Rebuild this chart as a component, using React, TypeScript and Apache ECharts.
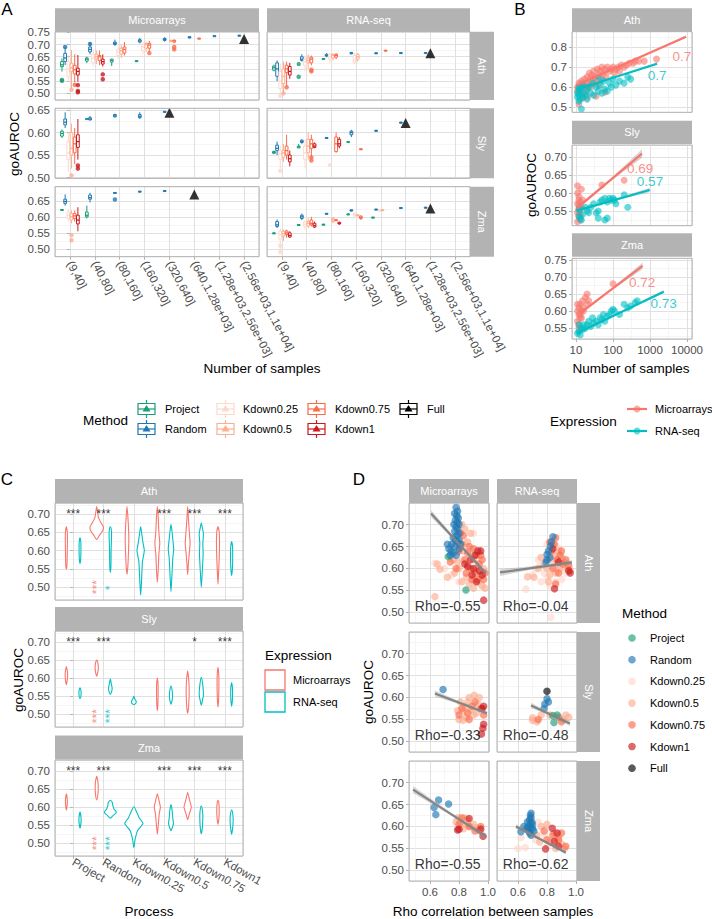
import React, { useEffect, useRef } from "react";
import * as echarts from "echarts";

const FONT = "'Liberation Sans', Arial, Helvetica, sans-serif";
const BORDER = "#b3b3b3";
const STRIP_FILL = "#b3b3b3";
const MAJOR = "#e0e0e0";
const MINOR = "#efefef";
const TICK_TXT = "#4d4d4d";

// ---------------- categories ----------------
const SPECIES = ["Ath", "Sly", "Zma"];
const EXPRESSIONS = ["Microarrays", "RNA-seq"];
const EXPR_COLORS = ["#F8766D", "#00BFC4"];
const METHODS = ["Project", "Random", "Kdown0.25", "Kdown0.5", "Kdown0.75", "Kdown1", "Full"];
const METHOD_COLORS = ["#1b9e77", "#1f78b4", "#fdd9cc", "#fcae91", "#fb6a4a", "#cb181d", "#000000"];
const SAMPLE_BINS = ["(9,40]", "(40,80]", "(80,160]", "(160,320]", "(320,640]", "(640,1.28e+03]", "(1.28e+03,2.56e+03]", "(2.56e+03,1.1e+04]"];
const PROCESSES = ["Project", "Random", "Kdown0.25", "Kdown0.5", "Kdown0.75", "Kdown1"];
const B_X_LABELS = ["10", "100", "1000", "10000"];

// ---------------- Panel A: boxes [bin, method, min, q1, median, q3, max] ----------------
const BOX_ATH_MICRO = [
  [0,0,0.589,0.609,0.617,0.63,0.643],[0,1,0.616,0.63,0.645,0.664,0.69],[0,2,0.548,0.568,0.6,0.63,0.657],
  [0,3,0.52,0.589,0.605,0.623,0.677],[0,4,0.545,0.58,0.597,0.615,0.66],[0,5,0.548,0.575,0.59,0.603,0.657],
  [1,0,0.624,0.632,0.64,0.645,0.65],[1,1,0.66,0.67,0.68,0.69,0.71],[1,2,0.61,0.625,0.645,0.66,0.68],
  [1,3,0.62,0.64,0.65,0.66,0.675],[1,4,0.615,0.635,0.65,0.655,0.675],[1,5,0.61,0.62,0.63,0.64,0.66],
  [2,0,0.612,0.628,0.635,0.64,0.642],[2,1,0.695,0.7,0.705,0.71,0.72],[2,2,0.64,0.655,0.67,0.68,0.7],
  [2,3,0.645,0.66,0.675,0.685,0.7],[2,4,0.655,0.665,0.68,0.69,0.71],
  [3,0,0.631,0.632,0.633,0.634,0.635],[3,1,0.705,0.71,0.715,0.72,0.727],[3,2,0.66,0.675,0.69,0.7,0.71],
  [3,3,0.67,0.685,0.7,0.705,0.71],[3,4,0.67,0.685,0.698,0.705,0.715],
  [4,1,0.712,0.717,0.72,0.725,0.73],[4,3,0.71,0.712,0.715,0.717,0.72],[4,4,0.705,0.71,0.715,0.718,0.72],
  [5,1,0.725,0.727,0.73,0.732,0.733],[5,4,0.722,0.723,0.725,0.726,0.727],
  [6,1,0.733,0.734,0.735,0.736,0.737],[7,1,0.735,0.736,0.737,0.738,0.739],
];
const BOX_ATH_RNA = [
  [0,0,0.59,0.595,0.605,0.612,0.618],[0,1,0.55,0.57,0.6,0.625,0.635],[0,2,0.48,0.52,0.55,0.59,0.62],
  [0,3,0.5,0.54,0.57,0.6,0.63],[0,4,0.53,0.585,0.6,0.615,0.63],[0,5,0.56,0.575,0.59,0.61,0.625],
  [1,0,0.612,0.615,0.62,0.625,0.628],[1,1,0.63,0.635,0.64,0.65,0.66],[1,2,0.59,0.615,0.63,0.64,0.655],
  [1,3,0.6,0.625,0.635,0.645,0.66],[1,4,0.615,0.625,0.64,0.648,0.655],
  [2,0,0.64,0.641,0.642,0.643,0.644],[2,1,0.648,0.653,0.655,0.66,0.665],[2,2,0.625,0.64,0.65,0.66,0.665],
  [2,3,0.635,0.645,0.655,0.66,0.665],[2,4,0.64,0.648,0.655,0.66,0.665],
  [3,1,0.66,0.662,0.665,0.667,0.67],[3,2,0.62,0.625,0.635,0.655,0.665],[3,3,0.63,0.64,0.65,0.66,0.665],
  [4,1,0.663,0.664,0.665,0.666,0.667],[4,4,0.672,0.673,0.675,0.677,0.678],
  [5,1,0.664,0.665,0.666,0.667,0.668],[6,1,0.664,0.665,0.666,0.667,0.668],
];
const BOX_SLY_MICRO = [
  [0,0,0.588,0.592,0.598,0.603,0.607],[0,1,0.61,0.617,0.623,0.63,0.645],[0,2,0.513,0.54,0.555,0.58,0.6],
  [0,3,0.52,0.55,0.565,0.6,0.62],[0,4,0.53,0.555,0.575,0.59,0.61],[0,5,0.54,0.567,0.58,0.595,0.63],
  [1,0,0.628,0.629,0.63,0.631,0.632],[1,1,0.627,0.628,0.63,0.633,0.637],
  [2,1,0.633,0.635,0.637,0.64,0.642],[3,1,0.63,0.633,0.636,0.64,0.645],[4,1,0.644,0.645,0.646,0.647,0.648],
];
const BOX_SLY_RNA = [
  [0,0,0.552,0.554,0.556,0.558,0.56],[0,1,0.55,0.56,0.565,0.572,0.58],[0,2,0.52,0.54,0.553,0.56,0.57],
  [0,3,0.535,0.545,0.555,0.56,0.575],[0,4,0.54,0.55,0.56,0.57,0.595],[0,5,0.525,0.535,0.542,0.55,0.56],
  [1,0,0.565,0.566,0.568,0.57,0.575],[1,1,0.575,0.578,0.58,0.583,0.585],[1,2,0.52,0.54,0.555,0.57,0.585],
  [1,3,0.54,0.555,0.57,0.585,0.6],[1,4,0.545,0.565,0.575,0.585,0.595],[1,5,0.565,0.567,0.57,0.575,0.578],
  [2,1,0.586,0.587,0.588,0.589,0.59],[2,2,0.525,0.526,0.528,0.53,0.532],[2,4,0.555,0.558,0.575,0.59,0.6],
  [2,5,0.565,0.57,0.575,0.585,0.59],
  [3,0,0.577,0.578,0.579,0.58,0.581],[3,1,0.59,0.595,0.6,0.603,0.606],[3,4,0.561,0.562,0.563,0.564,0.565],
  [4,1,0.602,0.603,0.604,0.605,0.606],[5,1,0.62,0.621,0.622,0.623,0.624],
];
const BOX_ZMA_MICRO = [
  [0,0,0.62,0.621,0.622,0.623,0.624],[0,1,0.635,0.642,0.648,0.655,0.67],[0,2,0.585,0.595,0.605,0.615,0.625],
  [0,3,0.58,0.59,0.6,0.61,0.62],[0,4,0.585,0.595,0.603,0.61,0.62],[0,5,0.555,0.578,0.59,0.605,0.63],
  [1,0,0.595,0.6,0.605,0.615,0.635],[1,1,0.645,0.655,0.66,0.668,0.675],
  [2,1,0.673,0.674,0.675,0.676,0.677],[3,1,0.677,0.678,0.679,0.68,0.681],[4,1,0.679,0.68,0.681,0.682,0.683],
];
const BOX_ZMA_RNA = [
  [0,0,0.547,0.548,0.549,0.55,0.551],[0,1,0.565,0.57,0.575,0.585,0.592],[0,2,0.5,0.53,0.545,0.555,0.565],
  [0,3,0.525,0.54,0.548,0.555,0.56],[0,4,0.535,0.545,0.55,0.556,0.56],[0,5,0.535,0.537,0.542,0.55,0.555],
  [1,0,0.573,0.574,0.575,0.576,0.577],[1,1,0.59,0.595,0.6,0.605,0.61],[1,2,0.56,0.57,0.577,0.585,0.59],
  [1,3,0.565,0.572,0.58,0.585,0.595],[1,4,0.57,0.575,0.58,0.59,0.6],[1,5,0.565,0.568,0.573,0.58,0.585],
  [2,0,0.574,0.575,0.576,0.577,0.578],[2,1,0.608,0.609,0.61,0.611,0.612],[2,3,0.58,0.585,0.59,0.595,0.6],
  [2,4,0.588,0.589,0.59,0.591,0.592],[2,5,0.575,0.578,0.58,0.583,0.585],
  [3,0,0.606,0.607,0.608,0.609,0.61],[3,1,0.617,0.618,0.62,0.622,0.623],[3,2,0.6,0.603,0.607,0.612,0.615],
  [3,3,0.603,0.604,0.605,0.606,0.607],[3,4,0.59,0.595,0.598,0.602,0.605],
  [4,0,0.596,0.597,0.598,0.599,0.6],[4,1,0.621,0.622,0.623,0.624,0.625],[4,2,0.618,0.619,0.62,0.621,0.622],
  [4,3,0.619,0.62,0.621,0.622,0.623],[5,1,0.626,0.627,0.628,0.629,0.63],[6,1,0.627,0.628,0.629,0.63,0.631],
];
// outliers [bin, method, value]
const OUT_ATH_MICRO = [[0,0,0.555],[0,0,0.552],[0,1,0.69],[0,3,0.515],[0,4,0.535],[0,5,0.534],[0,5,0.51],[0,5,0.505],[1,1,0.702],[1,5,0.578],[1,5,0.558],[3,4,0.665],[4,4,0.69],[4,4,0.68]];
const OUT_ATH_RNA = [[0,2,0.49],[0,3,0.5],[0,4,0.525],[1,0,0.568],[1,4,0.59],[1,4,0.597]];
const OUT_SLY_MICRO = [[0,3,0.505],[0,5,0.527],[0,5,0.52]];
const OUT_SLY_RNA = [[0,2,0.515],[1,4,0.545],[1,4,0.538]];
const OUT_ZMA_MICRO = [[0,3,0.543],[0,3,0.527],[2,1,0.654]];
const OUT_ZMA_RNA = [[0,2,0.51],[0,2,0.49]];
// Full dataset points [species, expression, bin, value]
const FULL_A = [[0,0,7,0.723],[0,1,6,0.664],[1,0,4,0.644],[1,1,5,0.621],[2,0,5,0.67],[2,1,6,0.626]];

// ---------------- Panel B: [number of samples, goAUROC] ----------------
const PTS_B_ATH_MICRO = [[11,0.6],[11,0.58],[12,0.62],[12,0.57],[13,0.61],[13,0.59],[14,0.63],[15,0.6],[15,0.56],[16,0.62],[17,0.64],[18,0.6],[19,0.58],[20,0.65],[20,0.62],[22,0.61],[23,0.67],[25,0.64],[25,0.6],[27,0.66],[30,0.62],[30,0.68],[33,0.65],[35,0.63],[38,0.69],[40,0.66],[40,0.61],[45,0.68],[50,0.64],[50,0.7],[55,0.67],[60,0.69],[65,0.65],[70,0.7],[80,0.68],[90,0.69],[100,0.7],[110,0.67],[120,0.69],[140,0.7],[150,0.68],[170,0.71],[200,0.7],[230,0.71],[280,0.72],[350,0.72],[400,0.73],[500,0.73],[700,0.73],[1500,0.74],[12,0.515],[20,0.55],[35,0.555],[60,0.575],[15,0.545]];
const PTS_B_ATH_RNA = [[11,0.55],[11,0.57],[12,0.53],[12,0.6],[12,0.56],[13,0.54],[13,0.58],[14,0.49],[15,0.55],[15,0.61],[16,0.57],[18,0.56],[20,0.59],[20,0.54],[22,0.6],[25,0.57],[28,0.62],[30,0.56],[35,0.6],[40,0.58],[41,0.648],[45,0.61],[50,0.57],[55,0.63],[60,0.59],[70,0.58],[80,0.62],[90,0.6],[100,0.64],[120,0.61],[150,0.63],[200,0.62],[250,0.65],[300,0.64],[12,0.59],[14,0.6]];
const PTS_B_SLY_MICRO = [[11,0.62],[11,0.6],[12,0.59],[12,0.58],[13,0.575],[11,0.57],[12,0.565],[14,0.56],[13,0.555],[12,0.55],[11,0.545],[12,0.535],[13,0.525],[11,0.52],[15,0.58],[14,0.61],[50,0.622],[200,0.635],[12,0.555],[13,0.54]];
const PTS_B_SLY_RNA = [[12,0.555],[13,0.53],[14,0.525],[12,0.535],[15,0.54],[20,0.55],[25,0.56],[30,0.57],[35,0.545],[40,0.55],[45,0.575],[50,0.58],[60,0.585],[70,0.575],[80,0.585],[90,0.58],[100,0.585],[110,0.58],[40,0.53],[60,0.525],[70,0.53],[200,0.595],[250,0.56],[120,0.57],[22,0.545],[18,0.56]];
const PTS_B_ZMA_MICRO = [[11,0.62],[11,0.6],[12,0.61],[12,0.59],[13,0.62],[13,0.58],[14,0.6],[15,0.63],[15,0.61],[16,0.6],[18,0.64],[20,0.65],[20,0.62],[22,0.63],[11,0.57],[12,0.56],[14,0.58],[12,0.55],[100,0.68],[13,0.59]];
const PTS_B_ZMA_RNA = [[11,0.535],[12,0.54],[13,0.53],[14,0.55],[15,0.545],[16,0.56],[18,0.55],[20,0.56],[22,0.57],[25,0.555],[28,0.58],[30,0.565],[35,0.57],[40,0.56],[45,0.58],[50,0.575],[55,0.59],[60,0.57],[70,0.585],[80,0.59],[90,0.6],[100,0.605],[110,0.6],[150,0.59],[200,0.62],[250,0.61],[300,0.615],[400,0.625],[450,0.63],[12,0.56]];
// fits [species, expression, n0, y0, n1, y1, se0, seMid, se1]
const FITS_B = [
  [0,0,10.6,0.61,9400,0.852,0.004,0.002,0.006],[0,1,10.6,0.589,1550,0.717,0.004,0.002,0.006],
  [1,0,10.6,0.558,607,0.709,0.006,0.003,0.012],[1,1,10.6,0.551,980,0.608,0.004,0.002,0.006],
  [2,0,13,0.594,630,0.733,0.005,0.003,0.01],[2,1,10.6,0.535,2350,0.657,0.003,0.002,0.005],
];
// fit labels [species, expression, n, y, text]
const LABELS_B = [[0,0,7300,0.754,"0.7"],[0,1,1550,0.66,"0.7"],[1,0,540,0.669,"0.69"],[1,1,1000,0.632,"0.57"],[2,0,610,0.684,"0.72"],[2,1,2350,0.621,"0.73"]];

// ---------------- Panel C: violins [process, expression, [[goAUROC, halfwidth]...]] ----------------
const VIOLINS_ATH = [
  [0,0,[[0.55,0],[0.56,0.02],[0.6,0.03],[0.63,0.035],[0.65,0.03],[0.665,0]]],
  [0,1,[[0.565,0],[0.58,0.025],[0.61,0.03],[0.625,0.025],[0.635,0]]],
  [1,0,[[0.63,0],[0.64,0.08],[0.655,0.2],[0.665,0.22],[0.675,0.15],[0.69,0.06],[0.705,0.03],[0.72,0]]],
  [1,1,[[0.54,0],[0.56,0.02],[0.6,0.025],[0.64,0.04],[0.655,0.035],[0.665,0]]],
  [2,0,[[0.535,0],[0.56,0.03],[0.6,0.05],[0.63,0.06],[0.66,0.05],[0.69,0.03],[0.72,0]]],
  [2,1,[[0.478,0],[0.52,0.03],[0.57,0.06],[0.6,0.12],[0.625,0.07],[0.65,0.03],[0.665,0]]],
  [3,0,[[0.513,0],[0.55,0.03],[0.59,0.05],[0.62,0.08],[0.65,0.05],[0.69,0.03],[0.72,0]]],
  [3,1,[[0.488,0],[0.53,0.03],[0.58,0.06],[0.605,0.09],[0.63,0.06],[0.655,0.03],[0.672,0]]],
  [4,0,[[0.535,0],[0.57,0.03],[0.6,0.06],[0.62,0.08],[0.645,0.06],[0.68,0.03],[0.72,0]]],
  [4,1,[[0.5,0],[0.54,0.03],[0.59,0.06],[0.62,0.05],[0.645,0.07],[0.66,0.04],[0.675,0]]],
  [5,0,[[0.508,0],[0.54,0.02],[0.58,0.04],[0.62,0.05],[0.65,0.04],[0.665,0]]],
  [5,1,[[0.532,0],[0.55,0.025],[0.58,0.035],[0.61,0.03],[0.625,0]]],
];
const VIOLINS_SLY = [
  [0,0,[[0.582,0],[0.595,0.03],[0.61,0.04],[0.62,0.03],[0.632,0]]],
  [0,1,[[0.543,0],[0.55,0.03],[0.56,0.035],[0.567,0.03],[0.573,0]]],
  [1,0,[[0.605,0],[0.615,0.035],[0.625,0.05],[0.635,0.05],[0.645,0.03],[0.65,0]]],
  [1,1,[[0.555,0],[0.562,0.04],[0.572,0.06],[0.585,0.03],[0.598,0]]],
  [2,1,[[0.527,0],[0.53,0.06],[0.535,0.08],[0.54,0.05],[0.545,0.02],[0.55,0]]],
  [3,0,[[0.51,0],[0.53,0.02],[0.56,0.025],[0.58,0.025],[0.6,0]]],
  [3,1,[[0.528,0],[0.54,0.04],[0.55,0.05],[0.565,0.04],[0.578,0]]],
  [4,0,[[0.503,0],[0.52,0.03],[0.56,0.05],[0.59,0.04],[0.62,0]]],
  [4,1,[[0.525,0],[0.535,0.03],[0.555,0.07],[0.58,0.05],[0.602,0]]],
  [5,0,[[0.52,0],[0.54,0.02],[0.58,0.03],[0.61,0.025],[0.63,0]]],
  [5,1,[[0.522,0],[0.54,0.025],[0.56,0.03],[0.575,0.025],[0.587,0]]],
];
const VIOLINS_ZMA = [
  [0,0,[[0.592,0],[0.605,0.025],[0.62,0.03],[0.637,0]]],
  [0,1,[[0.542,0],[0.555,0.03],[0.57,0.035],[0.586,0]]],
  [1,0,[[0.62,0],[0.635,0.04],[0.655,0.05],[0.67,0.04],[0.685,0]]],
  [1,1,[[0.569,0],[0.575,0.07],[0.585,0.2],[0.595,0.12],[0.605,0.08],[0.612,0.07],[0.619,0]]],
  [2,1,[[0.488,0],[0.51,0.04],[0.535,0.12],[0.555,0.3],[0.57,0.18],[0.585,0.1],[0.601,0]]],
  [3,0,[[0.525,0],[0.55,0.03],[0.58,0.06],[0.6,0.1],[0.62,0.05],[0.637,0]]],
  [3,1,[[0.535,0],[0.545,0.05],[0.555,0.08],[0.575,0.05],[0.59,0.04],[0.607,0]]],
  [4,0,[[0.565,0],[0.58,0.05],[0.6,0.12],[0.62,0.06],[0.64,0]]],
  [4,1,[[0.527,0],[0.54,0.03],[0.57,0.05],[0.59,0.04],[0.603,0]]],
  [5,0,[[0.552,0],[0.57,0.03],[0.59,0.04],[0.61,0.03],[0.619,0]]],
  [5,1,[[0.525,0],[0.54,0.03],[0.56,0.05],[0.58,0.04],[0.592,0]]],
];
const STARS_TOP_ATH = ["***", "***", "", "***", "***", "***"];
const STARS_TOP_SLY = ["***", "***", "", "", "*", "***"];
const STARS_TOP_ZMA = ["***", "***", "", "***", "***", "***"];
// [species, process, expression, y, text]
const STARS_SIDE = [[0,1,0,0.5,"***"],[0,1,1,0.498,"*"],[1,1,0,0.495,"***"],[1,1,1,0.495,"***"],[2,1,0,0.5,"***"],[2,1,1,0.5,"***"]];

// ---------------- Panel D: [method, rho, goAUROC] ----------------
const D_ATH_MICRO = [
  [2,0.634,0.612],[2,0.7,0.6],[2,0.75,0.585],[2,0.82,0.62],[2,0.86,0.6],[2,0.9,0.58],[2,0.93,0.61],[2,0.88,0.64],[2,0.8,0.57],[2,0.95,0.565],[2,0.84,0.66],[2,0.9,0.68],
  [3,0.634,0.536],[3,0.65,0.61],[3,0.669,0.598],[3,0.72,0.58],[3,0.77,0.59],[3,0.8,0.6],[3,0.82,0.57],[3,0.85,0.58],[3,0.87,0.565],[3,0.9,0.555],[3,0.93,0.57],[3,0.96,0.56],[3,0.98,0.555],[3,0.83,0.64],[3,0.86,0.66],[3,0.88,0.68],[3,0.82,0.7],[3,0.84,0.69],[3,0.9,0.62],[3,0.92,0.6],[3,0.95,0.585],[3,0.97,0.6],[3,0.79,0.615],[3,0.76,0.62],
  [4,0.74,0.615],[4,0.78,0.6],[4,0.8,0.64],[4,0.82,0.655],[4,0.84,0.62],[4,0.86,0.635],[4,0.88,0.6],[4,0.9,0.645],[4,0.92,0.63],[4,0.94,0.61],[4,0.96,0.62],[4,0.98,0.59],[4,0.85,0.59],[4,0.89,0.575],[4,0.91,0.59],[4,0.93,0.575],[4,0.97,0.575],[4,0.81,0.68],[4,0.83,0.675],[4,0.87,0.65],[4,0.95,0.63],
  [5,0.91,0.63],[5,0.93,0.64],[5,0.88,0.62],[5,0.86,0.605],[5,0.9,0.6],[5,0.94,0.595],[5,0.96,0.585],[5,0.97,0.528],[5,0.92,0.57],[5,0.84,0.61],[5,0.95,0.64],[5,0.89,0.585],
  [0,0.848,0.551],[0,0.726,0.627],
  [1,0.78,0.739],[1,0.79,0.73],[1,0.77,0.725],[1,0.785,0.72],[1,0.795,0.715],[1,0.775,0.71],[1,0.79,0.705],[1,0.8,0.7],[1,0.765,0.7],[1,0.78,0.695],[1,0.79,0.69],[1,0.77,0.685],[1,0.8,0.68],[1,0.785,0.675],[1,0.76,0.67],[1,0.775,0.665],[1,0.79,0.66],[1,0.75,0.655],[1,0.77,0.65],[1,0.8,0.645],[1,0.745,0.64],[1,0.76,0.635],[1,0.78,0.63],[1,0.81,0.655],[1,0.8,0.665],[1,0.73,0.645],[1,0.74,0.63],[1,0.72,0.655],
];
const D_ATH_RNA = [
  [2,0.655,0.553],[2,0.826,0.489],[2,0.72,0.6],[2,0.75,0.605],[2,0.78,0.59],[2,0.8,0.58],[2,0.85,0.6],[2,0.88,0.62],[2,0.9,0.605],[2,0.93,0.59],[2,0.86,0.57],[2,0.84,0.64],[2,0.7,0.585],[2,0.76,0.57],[2,0.82,0.56],[2,0.9,0.575],[2,0.95,0.61],[2,0.8,0.655],[2,0.87,0.65],[2,0.74,0.62],
  [3,0.666,0.581],[3,0.71,0.58],[3,0.74,0.6],[3,0.78,0.61],[3,0.8,0.6],[3,0.83,0.62],[3,0.85,0.63],[3,0.87,0.61],[3,0.89,0.6],[3,0.92,0.615],[3,0.94,0.6],[3,0.86,0.59],[3,0.82,0.585],[3,0.88,0.64],[3,0.84,0.655],[3,0.9,0.625],[3,0.96,0.595],[3,0.76,0.625],[3,0.81,0.57],
  [4,0.86,0.565],[4,0.83,0.64],[4,0.85,0.655],[4,0.87,0.62],[4,0.89,0.63],[4,0.91,0.61],[4,0.84,0.6],[4,0.93,0.62],[4,0.95,0.605],[4,0.88,0.59],[4,0.82,0.66],[4,0.86,0.67],[4,0.9,0.64],
  [5,0.852,0.554],[5,0.96,0.59],[5,0.95,0.595],[5,0.84,0.645],[5,0.88,0.615],
  [1,0.841,0.672],[1,0.823,0.651],[1,0.8,0.632],[1,0.793,0.614],[1,0.81,0.64],[1,0.83,0.66],[1,0.82,0.625],[1,0.8,0.62],
];
const D_SLY_MICRO = [
  [3,0.905,0.605],[3,0.94,0.6],[3,0.81,0.59],[3,0.86,0.59],[3,0.83,0.57],[3,0.88,0.572],[3,0.79,0.57],[3,0.828,0.548],[3,0.8,0.55],[3,0.85,0.555],[3,0.9,0.56],[3,0.93,0.585],[3,0.87,0.6],[3,0.84,0.58],[3,0.92,0.565],
  [4,0.82,0.575],[4,0.86,0.565],[4,0.89,0.58],[4,0.91,0.59],[4,0.95,0.575],[4,0.8,0.56],[4,0.87,0.55],[4,0.97,0.56],
  [5,0.96,0.575],[5,0.97,0.58],[5,0.97,0.539],[5,0.955,0.517],[5,0.965,0.53],
  [1,0.69,0.618],
];
const D_SLY_RNA = [
  [3,0.7,0.554],[3,0.93,0.56],[3,0.7,0.548],[3,0.73,0.545],[3,0.91,0.55],[3,0.95,0.555],[3,0.76,0.56],[3,0.82,0.56],
  [4,0.74,0.55],[4,0.88,0.555],[4,0.9,0.545],
  [0,0.84,0.559],[0,0.87,0.56],[0,0.848,0.543],
  [1,0.8,0.597],[1,0.78,0.575],[1,0.785,0.585],[1,0.81,0.59],
  [6,0.8,0.614],
];
const D_ZMA_MICRO = [
  [3,0.793,0.62],[3,0.84,0.619],[3,0.81,0.61],[3,0.85,0.605],[3,0.88,0.6],[3,0.92,0.597],[3,0.94,0.59],[3,0.83,0.595],[3,0.78,0.61],[3,0.9,0.605],[3,0.86,0.615],
  [4,0.82,0.62],[4,0.87,0.6],[4,0.8,0.605],[4,0.91,0.59],[4,0.95,0.6],
  [5,0.8,0.594],[5,0.87,0.618],[5,0.95,0.594],[5,0.966,0.578],[5,0.79,0.592],
  [1,0.628,0.643],[1,0.659,0.66],[1,0.728,0.651],[1,0.64,0.627],
];
const D_ZMA_RNA = [
  [2,0.62,0.575],[2,0.74,0.61],[2,0.6,0.55],[2,0.65,0.552],[2,0.72,0.57],[2,0.78,0.58],[2,0.85,0.57],[2,0.8,0.555],
  [3,0.76,0.6],[3,0.8,0.605],[3,0.73,0.58],[3,0.85,0.585],[3,0.88,0.575],[3,0.9,0.56],[3,0.82,0.565],[3,0.75,0.565],[3,0.92,0.55],[3,0.86,0.55],
  [4,0.78,0.59],[4,0.84,0.58],[4,0.88,0.57],[4,0.9,0.585],[4,0.93,0.555],[4,0.8,0.57],
  [5,0.836,0.596],[5,0.79,0.549],[5,0.85,0.566],[5,0.87,0.585],[5,0.88,0.555],
  [1,0.69,0.63],[1,0.685,0.625],[1,0.69,0.62],[1,0.68,0.615],[1,0.695,0.61],[1,0.685,0.605],[1,0.67,0.6],[1,0.69,0.598],[1,0.7,0.595],[1,0.675,0.59],[1,0.68,0.585],[1,0.69,0.58],[1,0.66,0.595],[1,0.64,0.6],[1,0.62,0.588],[1,0.7,0.605],[1,0.71,0.59],[1,0.665,0.61],
];
// fits [species, expression, x0, y0, x1, y1, se0, seMid, se1]
const FITS_D = [
  [0,0,0.607,0.725,0.986,0.589,0.008,0.003,0.006],[0,1,0.476,0.591,0.972,0.614,0.008,0.003,0.005],
  [1,0,0.634,0.609,0.993,0.564,0.007,0.003,0.005],[1,1,0.69,0.582,0.958,0.541,0.006,0.003,0.006],
  [2,0,0.483,0.684,0.986,0.577,0.008,0.003,0.006],[2,1,0.586,0.6,0.93,0.541,0.005,0.002,0.005],
];
const RHO_D = [["Rho=-0.55", "Rho=-0.04"], ["Rho=-0.33", "Rho=-0.48"], ["Rho=-0.55", "Rho=-0.62"]];

// ---------------- layout ----------------
const DODGE_A = 0.128;
const BOXW_A = 0.11;
const DODGE_C = 0.225;

function txt(x: number, y: number, text: string, size: number, opts: any = {}) {
  const align = opts.align || "center";
  return {
    type: "text", x, y, rotation: opts.rotation || 0, z: 120, silent: true,
    style: {
      text, fill: opts.color || "#000", fontSize: size, fontFamily: FONT,
      textAlign: align, align, textVerticalAlign: "middle", verticalAlign: "middle",
    },
  };
}

function buildOption() {
  const grids: any[] = [], xAxes: any[] = [], yAxes: any[] = [], series: any[] = [], graphics: any[] = [];

  const addGrid = (l: number, t: number, w: number, h: number, xa: any, ya: any) => {
    const i = grids.length;
    grids.push({ left: l, top: t, width: w, height: h, show: false });
    xAxes.push({ gridIndex: i, ...xa });
    yAxes.push({ gridIndex: i, ...ya });
    graphics.push({ type: "rect", z: 110, silent: true, shape: { x: l, y: t, width: w, height: h }, style: { fill: "none", stroke: BORDER, lineWidth: 1 } });
    return i;
  };
  const strip = (x: number, y: number, w: number, h: number, text: string, vertical = false) => {
    graphics.push({ type: "rect", z: 110, silent: true, shape: { x, y, width: w, height: h }, style: { fill: STRIP_FILL } });
    graphics.push(txt(x + w / 2, y + h / 2, text, 11, { color: "#fff", rotation: vertical ? -Math.PI / 2 : 0 }));
  };
  const axisLabelBase = { color: TICK_TXT, fontSize: 11.5, fontFamily: FONT, showMinLabel: false, showMaxLabel: false };
  const yAx = (min: number, max: number, split: number, dec: number, show: boolean) => ({
    type: "value", min, max, splitNumber: split,
    axisLine: { show: false },
    axisTick: { show, length: 3, lineStyle: { color: BORDER } },
    axisLabel: { show, margin: 5, ...axisLabelBase, formatter: (v: number) => v.toFixed(dec) },
    splitLine: { show: true, lineStyle: { color: MAJOR, width: 1 } },
    minorTick: { show: false, splitNumber: 2 },
    minorSplitLine: { show: true, lineStyle: { color: MINOR, width: 0.6 } },
  });
  const xCat = (cats: string[], show: boolean, rotate: number) => ({
    type: "value", min: -0.6, max: cats.length - 0.4, splitNumber: cats.length,
    axisLine: { show: false },
    axisTick: { show, length: 3, lineStyle: { color: BORDER } },
    axisLabel: {
      show, rotate, margin: 5, ...axisLabelBase,
      formatter: (v: number) => { const i = Math.round(v); return Math.abs(v - i) < 1e-6 ? (cats[i] ?? "") : ""; },
    },
    splitLine: { show: true, lineStyle: { color: MAJOR, width: 1 } },
    minorSplitLine: { show: false },
  });
  const xNum = (min: number, max: number, split: number, show: boolean, fmt: (v: number) => string) => ({
    type: "value", min, max, splitNumber: split,
    axisLine: { show: false },
    axisTick: { show, length: 3, lineStyle: { color: BORDER } },
    axisLabel: { show, margin: 5, ...axisLabelBase, formatter: fmt },
    splitLine: { show: true, lineStyle: { color: MAJOR, width: 1 } },
    minorTick: { show: false, splitNumber: 2 },
    minorSplitLine: { show: true, lineStyle: { color: MINOR, width: 0.6 } },
  });
  const bandRender = (rows: number[][]) => (params: any, api: any) => {
    const r = rows[params.dataIndex];
    const xm = (r[0] + r[2]) / 2, ym = (r[1] + r[3]) / 2;
    const pts = [[r[0], r[1] + r[4]], [xm, ym + r[5]], [r[2], r[3] + r[6]], [r[2], r[3] - r[6]], [xm, ym - r[5]], [r[0], r[1] - r[4]]].map((p) => api.coord(p));
    return { type: "polygon", shape: { points: pts }, style: { fill: "rgba(150,150,150,0.38)" } };
  };
  const labelSeries = (g: number, items: any[], size: number, extra: any = {}) => ({
    type: "scatter", xAxisIndex: g, yAxisIndex: g, silent: true, symbolSize: 1, z: 6,
    itemStyle: { color: "rgba(0,0,0,0)" },
    label: { show: true, position: "inside", formatter: "{b}", fontSize: size, fontFamily: FONT, color: "#000", ...extra },
    data: items,
  });

  // ===== Panel A =====
  const A_X = [55, 267], A_W = [204, 203];
  const A_ROWS = [[31.7, 68.3], [108.3, 70], [186.7, 70]];
  const A_YR = [[0.473, 0.7525, 6], [0.4985, 0.6538, 3], [0.4757, 0.694, 4]];
  const BOXES_A = [[BOX_ATH_MICRO, BOX_ATH_RNA], [BOX_SLY_MICRO, BOX_SLY_RNA], [BOX_ZMA_MICRO, BOX_ZMA_RNA]];
  const OUTS_A = [[OUT_ATH_MICRO, OUT_ATH_RNA], [OUT_SLY_MICRO, OUT_SLY_RNA], [OUT_ZMA_MICRO, OUT_ZMA_RNA]];
  const boxRender = (params: any, api: any) => {
    const cat = api.value(0), m = api.value(1);
    const x = cat + (m - 2.5) * DODGE_A;
    const p = [2, 3, 4, 5, 6].map((d) => api.coord([x, api.value(d)]));
    const hw = api.size([BOXW_A, 0])[0] / 2;
    const c = METHOD_COLORS[m];
    const st = { stroke: c, lineWidth: 1 };
    return {
      type: "group", children: [
        { type: "line", shape: { x1: p[0][0], y1: p[0][1], x2: p[1][0], y2: p[1][1] }, style: st },
        { type: "line", shape: { x1: p[3][0], y1: p[3][1], x2: p[4][0], y2: p[4][1] }, style: st },
        { type: "rect", shape: { x: p[1][0] - hw, y: p[3][1], width: 2 * hw, height: Math.max(p[1][1] - p[3][1], 1) }, style: { fill: "#fff", stroke: c, lineWidth: 1 } },
        { type: "line", shape: { x1: p[2][0] - hw, y1: p[2][1], x2: p[2][0] + hw, y2: p[2][1] }, style: { stroke: c, lineWidth: 1.3 } },
      ],
    };
  };
  for (let s = 0; s < 3; s++) {
    for (let e = 0; e < 2; e++) {
      const g = addGrid(A_X[e], A_ROWS[s][0], A_W[e], A_ROWS[s][1], xCat(SAMPLE_BINS, s === 2, -62), yAx(A_YR[s][0], A_YR[s][1], A_YR[s][2], 2, e === 0));
      series.push({ type: "custom", xAxisIndex: g, yAxisIndex: g, silent: true, z: 3, data: BOXES_A[s][e], encode: { x: 0, y: 4 }, renderItem: boxRender });
      series.push({
        type: "scatter", xAxisIndex: g, yAxisIndex: g, silent: true, symbolSize: 4.5, z: 4,
        data: OUTS_A[s][e].map((o) => ({ value: [o[0] + (o[1] - 2.5) * DODGE_A, o[2]], itemStyle: { color: METHOD_COLORS[o[1]] } })),
      });
      series.push({
        type: "scatter", xAxisIndex: g, yAxisIndex: g, silent: true, symbol: "triangle", symbolSize: 10, z: 5,
        itemStyle: { color: "#000" },
        data: FULL_A.filter((f) => f[0] === s && f[1] === e).map((f) => [f[2], f[3]]),
      });
    }
    strip(470, A_ROWS[s][0], 24, A_ROWS[s][1], SPECIES[s], true);
  }
  strip(A_X[0], 8.3, A_W[0], 23.4, EXPRESSIONS[0]);
  strip(A_X[1], 8.3, A_W[1], 23.4, EXPRESSIONS[1]);
  graphics.push(txt(14, 144, "goAUROC", 13.5, { rotation: Math.PI / 2 }));
  graphics.push(txt(262, 368, "Number of samples", 13.5));
  graphics.push(txt(7, 9, "A", 17));

  // ===== Panel B =====
  const B_X = 572, B_W = 120;
  const B_ROWS = [[31.7, 80.6], [145, 80.7], [258.3, 80.7]];
  const B_STRIP_Y = [8.3, 120.7, 233.3];
  const B_YR = [[0.474, 0.877, 4, 1], [0.509, 0.733, 4, 2], [0.518, 0.755, 5, 2]];
  const PTS_B = [[PTS_B_ATH_MICRO, PTS_B_ATH_RNA], [PTS_B_SLY_MICRO, PTS_B_SLY_RNA], [PTS_B_ZMA_MICRO, PTS_B_ZMA_RNA]];
  const bFmt = (v: number) => { const i = Math.round(v); return Math.abs(v - i) < 1e-6 ? (B_X_LABELS[i - 1] ?? "") : ""; };
  for (let s = 0; s < 3; s++) {
    const g = addGrid(B_X, B_ROWS[s][0], B_W, B_ROWS[s][1], xNum(0.892, 4.135, 3, s === 2, bFmt), yAx(B_YR[s][0], B_YR[s][1], B_YR[s][2], B_YR[s][3], true));
    for (let e = 0; e < 2; e++) {
      series.push({
        type: "scatter", xAxisIndex: g, yAxisIndex: g, silent: true, symbolSize: 7, z: 3,
        itemStyle: { color: EXPR_COLORS[e], opacity: 0.6 },
        data: PTS_B[s][e].map((p) => [Math.log10(p[0]), p[1]]),
      });
    }
    const fits = FITS_B.filter((f) => f[0] === s).map((f) => [Math.log10(f[2]), f[3], Math.log10(f[4]), f[5], f[6], f[7], f[8], f[1]]);
    series.push({ type: "custom", xAxisIndex: g, yAxisIndex: g, silent: true, z: 4, data: fits.map((f) => [f[0], f[1]]), renderItem: bandRender(fits) });
    fits.forEach((f) => {
      series.push({
        type: "line", xAxisIndex: g, yAxisIndex: g, silent: true, z: 5, symbol: "none", showSymbol: false,
        lineStyle: { color: EXPR_COLORS[f[7]], width: 2.2 },
        data: [[f[0], f[1]], [f[2], f[3]]],
      });
    });
    LABELS_B.filter((l) => l[0] === s).forEach((l) => {
      series.push(labelSeries(g, [{ name: l[4], value: [Math.log10(l[2] as number), l[3]] }], 13.5, { color: EXPR_COLORS[l[1] as number], lineHeight: 12 }));
    });
    strip(B_X, B_STRIP_Y[s], B_W, 23.4, SPECIES[s]);
  }
  graphics.push(txt(531, 185, "goAUROC", 13.5, { rotation: Math.PI / 2 }));
  graphics.push(txt(631, 368, "Number of samples", 13.5));
  graphics.push(txt(520, 9, "B", 17));

  // ===== Panel C =====
  const C_X = 55, C_W = 188;
  const C_ROWS = [[503, 97], [631, 96], [760, 96]];
  const C_STRIP_Y = [479, 607, 735.5];
  const VIOLINS = [VIOLINS_ATH, VIOLINS_SLY, VIOLINS_ZMA];
  const STARS_TOP = [STARS_TOP_ATH, STARS_TOP_SLY, STARS_TOP_ZMA];
  const violinRender = (list: any[]) => (params: any, api: any) => {
    const v = list[params.dataIndex];
    // dodge only when both expressions share the process (ggplot position_dodge)
    const shared = list.filter((o: any) => o[0] === v[0]).length > 1;
    const cx = v[0] + (shared ? (v[1] === 0 ? -DODGE_C : DODGE_C) : 0);
    const prof = v[2];
    const right = prof.map((q: number[]) => api.coord([cx + q[1], q[0]]));
    const left = prof.slice(1, -1).map((q: number[]) => api.coord([cx - q[1], q[0]])).reverse();
    return { type: "polygon", shape: { points: right.concat(left), smooth: 0.2 }, style: { fill: "#fff", stroke: EXPR_COLORS[v[1]], lineWidth: 1.1 } };
  };
  for (let s = 0; s < 3; s++) {
    const g = addGrid(C_X, C_ROWS[s][0], C_W, C_ROWS[s][1], xCat(PROCESSES, s === 2, -30), yAx(0.465, 0.73, 5, 2, true));
    series.push({ type: "custom", xAxisIndex: g, yAxisIndex: g, silent: true, z: 3, data: VIOLINS[s].map((v: any) => [v[0], v[2][0][0]]), renderItem: violinRender(VIOLINS[s]) });
    series.push(labelSeries(g, STARS_TOP[s].map((t, i) => ({ name: t, value: [i, 0.7] })).filter((d) => d.name !== ""), 12));
    STARS_SIDE.filter((t) => t[0] === s).forEach((t) => {
      series.push(labelSeries(g, [{ name: t[4], value: [(t[1] as number) + (t[2] === 0 ? -DODGE_C : DODGE_C), t[3]] }], 12, { color: EXPR_COLORS[t[2] as number], rotate: 90 }));
    });
    strip(C_X, C_STRIP_Y[s], C_W, 24, SPECIES[s]);
  }
  graphics.push(txt(18, 680, "goAUROC", 13.5, { rotation: Math.PI / 2 }));
  graphics.push(txt(149, 911, "Process", 13.5));
  graphics.push(txt(7, 479, "C", 17));

  // ===== Panel D =====
  const D_X = [409, 497], D_W = 80;
  const D_ROWS = [[503, 120], [632, 120], [761, 120]];
  const D_PTS = [[D_ATH_MICRO, D_ATH_RNA], [D_SLY_MICRO, D_SLY_RNA], [D_ZMA_MICRO, D_ZMA_RNA]];
  for (let s = 0; s < 3; s++) {
    for (let e = 0; e < 2; e++) {
      const g = addGrid(D_X[e], D_ROWS[s][0], D_W, D_ROWS[s][1], xNum(0.455, 1.007, 3, s === 2, (v: number) => v.toFixed(1)), yAx(0.476, 0.749, 5, 2, e === 0));
      series.push({
        type: "scatter", xAxisIndex: g, yAxisIndex: g, silent: true, symbolSize: 7.5, z: 3,
        data: D_PTS[s][e].map((p) => ({ value: [p[1], p[2]], itemStyle: { color: METHOD_COLORS[p[0]], opacity: 0.65 } })),
      });
      const fits = FITS_D.filter((f) => f[0] === s && f[1] === e).map((f) => f.slice(2));
      series.push({ type: "custom", xAxisIndex: g, yAxisIndex: g, silent: true, z: 4, data: fits.map((f) => [f[0], f[1]]), renderItem: bandRender(fits) });
      fits.forEach((f) => {
        series.push({
          type: "line", xAxisIndex: g, yAxisIndex: g, silent: true, z: 5, symbol: "none", showSymbol: false,
          lineStyle: { color: "#858585", width: 2.2 }, data: [[f[0], f[1]], [f[2], f[3]]],
        });
      });
      series.push(labelSeries(g, [{ name: RHO_D[s][e], value: [0.722, 0.515] }], 14));
    }
    strip(577, D_ROWS[s][0], 23, D_ROWS[s][1], SPECIES[s], true);
  }
  strip(D_X[0], 479, D_W, 24, EXPRESSIONS[0]);
  strip(D_X[1], 479, D_W, 24, EXPRESSIONS[1]);
  graphics.push(txt(368, 692, "goAUROC", 13.5, { rotation: Math.PI / 2 }));
  graphics.push(txt(493, 911, "Rho correlation between samples", 13.5));
  graphics.push(txt(359, 479, "D", 17));

  // ===== Legends =====
  graphics.push(txt(83, 420, "Method", 13.5, { align: "left" }));
  const keyCols = [138, 217, 308, 400], textCols = [165, 243, 335, 427], keyRows = [409, 429];
  METHODS.forEach((m, i) => {
    const col = Math.floor(i / 2), row = i % 2;
    const x = keyCols[col], yc = keyRows[row], c = METHOD_COLORS[i];
    graphics.push({
      type: "group", z: 120, silent: true, children: [
        { type: "line", shape: { x1: x + 8.5, y1: yc - 9, x2: x + 8.5, y2: yc + 9 }, style: { stroke: c, lineWidth: 1.2 } },
        { type: "rect", shape: { x, y: yc - 5.5, width: 17, height: 11 }, style: { fill: "#fff", stroke: c, lineWidth: 1.2 } },
        { type: "line", shape: { x1: x, y1: yc, x2: x + 17, y2: yc }, style: { stroke: c, lineWidth: 1.2 } },
        { type: "polygon", shape: { points: [[x + 8.5, yc - 4], [x + 12.5, yc + 2.5], [x + 4.5, yc + 2.5]] }, style: { fill: c } },
      ],
    });
    graphics.push(txt(textCols[col], yc, m, 11, { align: "left" }));
  });
  graphics.push(txt(550, 421, "Expression", 13.5, { align: "left" }));
  EXPRESSIONS.forEach((ex, i) => {
    const yc = 409 + i * 22;
    graphics.push({
      type: "group", z: 120, silent: true, children: [
        { type: "line", shape: { x1: 627, y1: yc, x2: 647, y2: yc }, style: { stroke: EXPR_COLORS[i], lineWidth: 2.2 } },
        { type: "circle", shape: { cx: 637, cy: yc, r: 3.5 }, style: { fill: EXPR_COLORS[i], opacity: 0.6 } },
      ],
    });
    graphics.push(txt(655, yc, ex, 11, { align: "left" }));
  });
  graphics.push(txt(265, 655, "Expression", 13.5, { align: "left" }));
  EXPRESSIONS.forEach((ex, i) => {
    const y = 670 + i * 22;
    graphics.push({ type: "rect", z: 120, silent: true, shape: { x: 265, y, width: 20, height: 20 }, style: { fill: "#fff", stroke: EXPR_COLORS[i], lineWidth: 1.3 } });
    graphics.push(txt(293, y + 10, ex, 11, { align: "left" }));
  });
  graphics.push(txt(622, 613, "Method", 13.5, { align: "left" }));
  METHODS.forEach((m, i) => {
    const yc = 638 + i * 21.7;
    graphics.push({ type: "circle", z: 120, silent: true, shape: { cx: 632, cy: yc, r: 3.8 }, style: { fill: METHOD_COLORS[i], opacity: 0.65 } });
    graphics.push(txt(650, yc, m, 11, { align: "left" }));
  });

  return {
    animation: false,
    backgroundColor: "#fff",
    textStyle: { fontFamily: FONT },
    grid: grids, xAxis: xAxes, yAxis: yAxes, series,
    graphic: { elements: graphics },
  };
}

export default function App() {
  const ref = useRef<HTMLDivElement>(null);
  useEffect(() => {
    document.body.style.margin = "0";
    const chart = echarts.init(ref.current as HTMLDivElement, null, { renderer: "svg", width: 712, height: 919 });
    chart.setOption(buildOption() as any);
    return () => chart.dispose();
  }, []);
  return <div ref={ref} style={{ width: 712, height: 919 }} />;
}
